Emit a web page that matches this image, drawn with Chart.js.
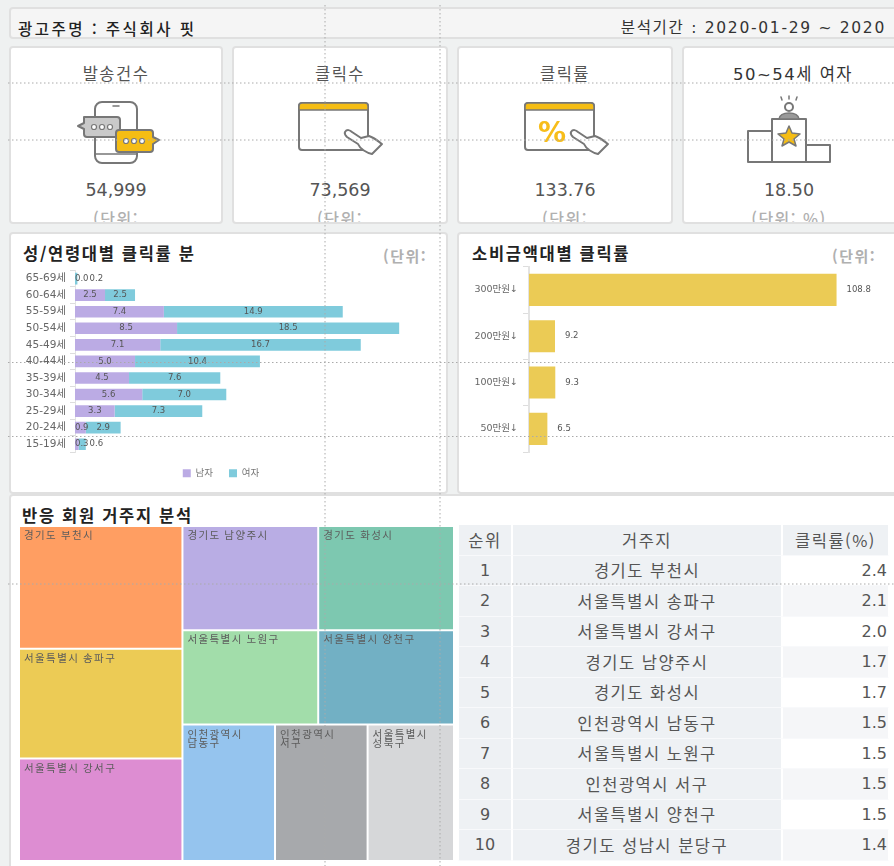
<!DOCTYPE html>
<html lang="ko">
<head>
<meta charset="utf-8">
<title>클릭률 분석</title>
<script src="https://cdn.jsdelivr.net/npm/chart.js@4/dist/chart.umd.js"></script>
<style>
html, body { margin: 0; padding: 0; background: #eff1f1; }
#page { position: relative; width: 894px; height: 866px; overflow: hidden; background: #eff1f1;
  font-family: "DejaVu Sans", "Noto Sans CJK KR", sans-serif; color: #555; filter: blur(0.6px); }
.box { position: absolute; background: #fff; border: 2px solid #e0e0e0; border-radius: 4px; box-sizing: border-box; overflow: hidden; }
.txt { position: absolute; white-space: nowrap; line-height: 1; }
canvas { position: absolute; }
.title { font-family: "Noto Sans CJK KR", sans-serif; font-size: 16.5px; letter-spacing: 1.7px; font-weight: 700; color: #222; }
.unit { font-family: "Noto Sans CJK KR", sans-serif; font-size: 15px; letter-spacing: 1.5px; font-weight: 700; color: #b0b0b0; }
.card-title { left: 0; right: 0; text-align: center; top: 19px; font-family: "DejaVu Sans", "Noto Sans CJK KR", sans-serif; font-size: 16.5px; letter-spacing: 1.5px; color: #555; }
.card-value { left: 0; right: 0; text-align: center; top: 134px; font-size: 17.5px; color: #555; }
.card-unit { left: 0; right: 0; text-align: center; top: 162px; font-family: "Noto Sans CJK KR", sans-serif; font-size: 16px; letter-spacing: 1.5px; font-weight: 500; color: #b0b0b0; }
#rankTable { position: absolute; left: 458px; top: 525px; width: 431px; border-collapse: separate; border-spacing: 0; table-layout: fixed;
  font-family: "DejaVu Sans", "Noto Sans CJK KR", sans-serif; font-size: 16px; color: #555; }
#rankTable th, #rankTable td { height: 30.5px; padding: 0; box-sizing: border-box; text-align: center; font-weight: 400; background: #eef1f4; border-left: 1px solid #fff; border-right: 1px solid #fff; border-bottom: 1px solid #f8f9fb; }
#rankTable th, #rankTable td.region { font-family: "Noto Sans CJK KR", sans-serif; font-size: 16.5px; letter-spacing: 1.5px; }
#rankTable td.val { text-align: right; padding-right: 1px; background: #f5f6f8; }
#rankTable tr.odd td.val { background: #fff; }
</style>
</head>
<body>
<div id="page">
  <div class="box" style="left:9px;top:7px;width:900px;height:32px;background:#f5f5f5"></div>
  <div class="txt" style="left:18px;top:21px;font-family:'Noto Sans CJK KR';font-size:15.5px;letter-spacing:2.5px;font-weight:500;color:#222">광고주명 : 주식회사 핏</div>
  <div class="txt" style="right:8px;top:21px;font-size:15.5px;letter-spacing:1.7px;color:#333">분석기간 : 2020-01-29 ~ 2020</div>

  <div id="cards"></div>

  <div class="box" style="left:9px;top:232px;width:439px;height:262px"></div>
  <div class="box" style="left:457px;top:232px;width:460px;height:262px"></div>
  <div class="box" style="left:9px;top:494px;width:900px;height:390px"></div>

  <div class="txt title" style="left:23px;top:245px">성/연령대별 클릭률 분</div>
  <div class="txt unit" style="left:383px;top:248px">(단위:</div>
  <div class="txt title" style="left:472px;top:245px">소비금액대별 클릭률</div>
  <div class="txt unit" style="left:832px;top:248px">(단위:</div>
  <div class="txt title" style="left:22px;top:507px">반응 회원 거주지 분석</div>

  <canvas id="ageChart" width="435" height="232" style="left:11px;top:260px"></canvas>
  <canvas id="spendChart" width="432" height="214" style="left:460px;top:256px"></canvas>
  <canvas id="treeChart" width="435" height="335" style="left:19px;top:526px"></canvas>

  <table id="rankTable">
    <colgroup><col style="width:54px"><col style="width:270px"><col style="width:107px"></colgroup>
    <thead><tr><th>순위</th><th>거주지</th><th>클릭률(%)</th></tr></thead>
    <tbody id="rankBody"></tbody>
  </table>

  <svg width="894" height="866" style="position:absolute;left:0;top:0" fill="none" stroke="#777" stroke-width="2" stroke-linejoin="round" stroke-linecap="round">
    <defs>
      <path id="hand" fill="#fff" d="M0,2 C2,-1 5,0 7,2 L16,8 L24,6 C30,8 34,12 37,14 L27,24 C22,23 15,19 13,14 L2,7 C0,5 -1,4 0,2 Z"/>
    </defs>
    <!-- 발송건수 -->
    <rect x="95" y="102" width="42" height="61" rx="7" fill="#fff"/>
    <path d="M95,154 H137 M113,106 H119" stroke-width="1.5"/>
    <path d="M84,117 H117 Q120,117 120,120 V134 Q120,137 117,137 H87 Q84,137 84,134 V129 L78,126 L84,123 Z" fill="#c9c9c9"/>
    <path d="M119,130 H150 Q153,130 153,133 V137 L159,140 L153,144 V149 Q153,152 150,152 H119 Q116,152 116,149 V133 Q116,130 119,130 Z" fill="#f5bd14"/>
    <g fill="#fff" stroke-width="1.2"><circle cx="94" cy="127" r="2.5"/><circle cx="102" cy="127" r="2.5"/><circle cx="110" cy="127" r="2.5"/><circle cx="126" cy="141" r="2.5"/><circle cx="134" cy="141" r="2.5"/><circle cx="142" cy="141" r="2.5"/></g>
    <!-- 클릭수 -->
    <rect x="299" y="103" width="69" height="47" rx="3" fill="#fff"/>
    <path d="M299,110 V106 Q299,103 302,103 H365 Q368,103 368,106 V110 Z" fill="#f5bd14" stroke-width="1.5"/>
    <use href="#hand" x="345" y="130"/>
    <!-- 클릭률 -->
    <rect x="525" y="103" width="69" height="47" rx="3" fill="#fff"/>
    <path d="M525,110 V106 Q525,103 528,103 H591 Q594,103 594,106 V110 Z" fill="#f5bd14" stroke-width="1.5"/>
    <text x="552" y="142" text-anchor="middle" font-family="DejaVu Sans" font-size="28" font-weight="700" fill="#f7bd1a" stroke="none">%</text>
    <use href="#hand" x="571" y="130"/>
    <!-- 50~54세 여자 -->
    <path d="M772,131 H748 V162 H830 V145 H806"/>
    <rect x="772" y="119" width="34" height="43" fill="#fff"/>
    <circle cx="789" cy="107" r="4"/>
    <path d="M779,119 Q780,113 789,113 Q798,113 799,119 Z" fill="#999" stroke-width="1.5"/>
    <path d="M781,97 L782,100 M789,96 V99 M797,97 L796,100" stroke-width="1.5"/>
    <path d="M789,126 L792,133 L800,134 L794,139 L796,146 L789,142 L782,146 L784,139 L778,134 L786,133 Z" fill="#f5bd14" stroke-width="1.5"/>
    <!-- 안내선 -->
    <g stroke="#aaa" stroke-width="1" stroke-dasharray="1.5 2.5" stroke-linecap="butt">
      <path d="M325,5 V866 M440,5 V866"/>
      <path d="M8,83 H894 M8,140 H894 M8,362.5 H894 M8,436.5 H894 M8,584 H894"/>
    </g>
  </svg>
</div>

<script>
// 상단 카드
const cardTitles = ['발송건수', '클릭수', '클릭률', '50~54세 여자']
const cardValues = ['54,999', '73,569', '133.76', '18.50']
const cardUnits = ['(단위:', '(단위:', '(단위:', '(단위: %)']
const cardLefts = [9, 232, 457, 682]
const cardWidths = [214, 216, 216, 240]

// 성/연령대별 클릭률
const ageLabels = ['65-69세', '60-64세', '55-59세', '50-54세', '45-49세', '40-44세', '35-39세', '30-34세', '25-29세', '20-24세', '15-19세']
const maleValues = [0.0, 2.5, 7.4, 8.5, 7.1, 5.0, 4.5, 5.6, 3.3, 0.9, 0.3]
const femaleValues = [0.2, 2.5, 14.9, 18.5, 16.7, 10.4, 7.6, 7.0, 7.3, 2.9, 0.6]

// 소비금액대별 클릭률
const spendLabels = ['300만원↓', '200만원↓', '100만원↓', '50만원↓']
const spendValues = [108.8, 9.2, 9.3, 6.5]

// 거주지 트리맵
const treeLabels = [['경기도 부천시'], ['서울특별시 송파구'], ['서울특별시 강서구'], ['경기도 남양주시'], ['경기도 화성시'], ['서울특별시 노원구'], ['서울특별시 양천구'], ['인천광역시', '남동구'], ['인천광역시', '서구'], ['서울특별시', '성북구']]
const treeValues = [2.38, 2.13, 1.99, 1.68, 1.68, 1.52, 1.52, 1.5, 1.5, 1.4]
const treeColors = ['#ff9e62', '#eccb55', '#dd8dd2', '#b9ade4', '#7dc8b0', '#a2ddaa', '#72b0c4', '#95c4ee', '#a7a9ac', '#d6d7d9']
const treeRows = [[3, 4], [5, 6], [7, 8, 9]]

// 순위표
const rankRegions = ['경기도 부천시', '서울특별시 송파구', '서울특별시 강서구', '경기도 남양주시', '경기도 화성시', '인천광역시 남동구', '서울특별시 노원구', '인천광역시 서구', '서울특별시 양천구', '경기도 성남시 분당구']
const rankValues = ['2.4', '2.1', '2.0', '1.7', '1.7', '1.5', '1.5', '1.5', '1.5', '1.4']

const tickFont = { family: '"DejaVu Sans", "Noto Sans CJK KR", sans-serif', size: 10.5 }
const labelFont = '8.5px "DejaVu Sans", "Noto Sans CJK KR", sans-serif'

document.getElementById('cards').innerHTML = cardTitles.map((title, i) => `
  <div class="box" style="left:${cardLefts[i]}px;top:46px;width:${cardWidths[i]}px;height:178px">
    <div class="txt card-title"${i === 3 ? ' style="right:18px;color:#333"' : ''}>${title}</div>
    <div class="txt card-value"${i === 3 ? ' style="right:26px"' : ''}>${cardValues[i]}</div>
    <div class="txt card-unit"${i === 3 ? ' style="right:26px"' : ''}>${cardUnits[i]}</div>
  </div>`).join('')

document.getElementById('rankBody').innerHTML = rankRegions.map((region, i) =>
  `<tr class="${i % 2 === 0 ? 'odd' : ''}"><td>${i + 1}</td><td class="region">${region}</td><td class="val">${rankValues[i]}</td></tr>`).join('')

// 누적 막대 안쪽 값 표시 (좁은 칸은 앞 글자 뒤로 밀어서 그림)
const stackLabelPlugin = {
    id: 'stackLabels',
    afterDatasetsDraw(chart) {
        const ctx = chart.ctx
        ctx.save()
        ctx.font = labelFont
        ctx.fillStyle = '#555'
        ctx.textBaseline = 'middle'
        ctx.textAlign = 'left'
        chart.data.labels.forEach((label, index) => {
            let lastRight = chart.chartArea.left
            chart.data.datasets.forEach((dataset, d) => {
                const bar = chart.getDatasetMeta(d).data[index]
                const text = dataset.data[index].toFixed(1)
                const w = ctx.measureText(text).width
                let x = (bar.base + bar.x) / 2 - w / 2
                if (x < lastRight) x = lastRight
                ctx.fillText(text, x, bar.y)
                lastRight = x + w + 1
            })
        })
        ctx.restore()
    }
}

// 막대 끝 값 표시
const endLabelPlugin = {
    id: 'endLabels',
    afterDatasetsDraw(chart) {
        const ctx = chart.ctx
        ctx.save()
        ctx.font = labelFont
        ctx.fillStyle = '#555'
        ctx.textBaseline = 'middle'
        chart.getDatasetMeta(0).data.forEach((bar, i) => {
            ctx.fillText(chart.data.datasets[0].data[i].toFixed(1), bar.x + 10, bar.y)
        })
        ctx.restore()
    }
}

new Chart(document.getElementById('ageChart').getContext('2d'), {
    type: 'bar',
    data: {
        labels: ageLabels,
        datasets: [
            { label: '남자', data: maleValues, backgroundColor: '#bbabe4' },
            { label: '여자', data: femaleValues, backgroundColor: '#7fcbdc' }
        ]
    },
    plugins: [stackLabelPlugin],
    options: {
        indexAxis: 'y',
        responsive: false,
        animation: false,
        barPercentage: 0.78,
        categoryPercentage: 0.9,
        layout: { padding: { top: 7, left: 0, right: 15, bottom: 4 } },
        scales: {
            x: { stacked: true, display: false, min: 0, max: 29.65 },
            y: {
                stacked: true,
                afterFit: (scale) => { scale.width = 64 },
                grid: { drawOnChartArea: false, tickLength: 5, color: '#ddd' },
                border: { color: '#e3e3e3' },
                ticks: { font: tickFont, color: '#666', padding: 4, autoSkip: false }
            }
        },
        plugins: {
            legend: {
                position: 'bottom',
                labels: { boxWidth: 8, boxHeight: 8, padding: 16, color: '#777', font: { family: tickFont.family, size: 9.5 } }
            },
            tooltip: { enabled: false }
        }
    }
})

new Chart(document.getElementById('spendChart').getContext('2d'), {
    type: 'bar',
    data: {
        labels: spendLabels,
        datasets: [{ data: spendValues, backgroundColor: '#ebcb55' }]
    },
    plugins: [endLabelPlugin],
    options: {
        indexAxis: 'y',
        responsive: false,
        animation: false,
        barPercentage: 0.77,
        categoryPercentage: 0.9,
        layout: { padding: { top: 3, right: 4, bottom: 18 } },
        scales: {
            x: { display: false, min: 0, max: 127 },
            y: {
                afterFit: (scale) => { scale.width = 69 },
                grid: { drawOnChartArea: false, tickLength: 6, color: '#ddd' },
                border: { color: '#e3e3e3', width: 2 },
                ticks: { font: { family: tickFont.family, size: 9.5 }, color: '#666', padding: 5 }
            }
        },
        plugins: { legend: { display: false }, tooltip: { enabled: false } }
    }
})

// 트리맵: 값에서 사각형을 계산해 스케일로 픽셀 변환
class TreemapController extends Chart.DatasetController {
    update(mode) {
        this.updateElements(this._cachedMeta.data, 0, this._cachedMeta.data.length, mode)
    }
    layoutCells() {
        const values = this.getDataset().data
        const cells = []
        const leftSum = values[0] + values[1] + values[2]
        const rightSum = treeRows.flat().reduce((sum, i) => sum + values[i], 0)
        let y = 0
        for (let i = 0; i < 3; i++) {
            cells[i] = { x0: 0, x1: leftSum, y0: y, y1: y + values[i] / leftSum }
            y = cells[i].y1
        }
        y = 0
        treeRows.forEach((row) => {
            const rowSum = row.reduce((sum, i) => sum + values[i], 0)
            const y1 = y + rowSum / rightSum
            let x = leftSum
            row.forEach((i) => {
                const x1 = x + rightSum * values[i] / rowSum
                cells[i] = { x0: x, x1, y0: y, y1 }
                x = x1
            })
            y = y1
        })
        return cells
    }
    updateElements(elements, start, count, mode) {
        const { x: xScale, y: yScale } = this.chart.scales
        const cells = this.layoutCells()
        for (let i = start; i < start + count; i++) {
            const c = cells[i]
            const left = xScale.getPixelForValue(c.x0)
            const right = xScale.getPixelForValue(c.x1)
            const top = yScale.getPixelForValue(c.y0)
            const bottom = yScale.getPixelForValue(c.y1)
            this.updateElement(elements[i], i, {
                x: (left + right) / 2,
                y: top,
                base: bottom,
                width: right - left,
                height: bottom - top,
                horizontal: false,
                inflateAmount: 0,
                enableBorderRadius: false,
                borderSkipped: {},
                options: this.resolveDataElementOptions(i, mode)
            }, mode)
        }
    }
}
TreemapController.id = 'treemap'
TreemapController.defaults = { datasetElementType: false, dataElementType: 'bar' }
Chart.register(TreemapController)

const treeLabelPlugin = {
    id: 'treeLabels',
    afterDatasetsDraw(chart) {
        const ctx = chart.ctx
        ctx.save()
        ctx.font = '10.5px "Noto Sans CJK KR", sans-serif'
        ctx.letterSpacing = '1.4px'
        ctx.fillStyle = '#5c5c5c'
        ctx.textBaseline = 'top'
        chart.getDatasetMeta(0).data.forEach((cell, i) => {
            const left = cell.x - cell.width / 2
            treeLabels[i].forEach((line, n) => {
                ctx.fillText(line, left + 5, cell.y + 4 + n * 9)
            })
        })
        ctx.restore()
    }
}

new Chart(document.getElementById('treeChart').getContext('2d'), {
    type: 'treemap',
    data: {
        labels: treeLabels.map((l) => l.join(' ')),
        datasets: [{ data: treeValues, backgroundColor: treeColors, borderColor: 'rgba(255,255,255,0.75)', borderWidth: 1 }]
    },
    plugins: [treeLabelPlugin],
    options: {
        responsive: false,
        animation: false,
        layout: { padding: 0 },
        scales: {
            x: { type: 'linear', display: false, min: 0, max: 17.3 },
            y: { type: 'linear', display: false, min: 0, max: 1, reverse: true }
        },
        plugins: { legend: { display: false }, tooltip: { enabled: false } }
    }
})
</script>
</body>
</html>
